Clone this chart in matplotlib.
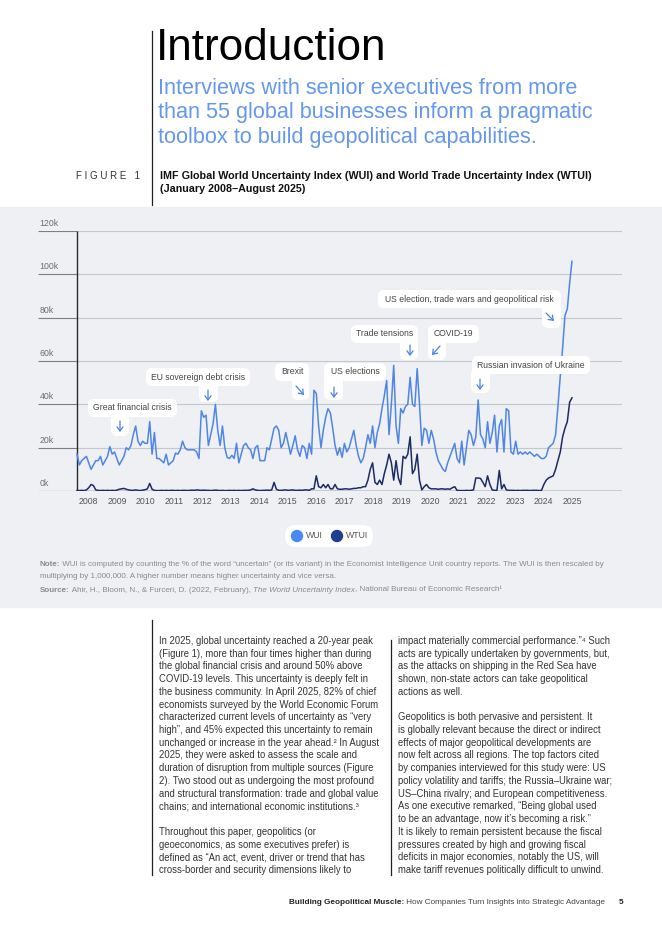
import numpy as np
import matplotlib
matplotlib.use("Agg")
import matplotlib.pyplot as plt
from matplotlib.transforms import Affine2D
from matplotlib.patches import FancyBboxPatch, FancyArrowPatch, Circle

plt.rcParams['font.family'] = ['Liberation Sans', 'DejaVu Sans']

# monthly values, Jan 2008 - Aug 2025, in thousands
wui = [
    17, 12, 14, 15, 16, 13, 10, 12, 14, 14, 16, 12,        # 2008
    14, 16, 20.5, 17, 18, 15, 12, 14, 16, 20, 19, 21,      # 2009
    26, 30, 23, 21, 23, 22, 22, 32, 17, 27, 15, 15,        # 2010
    14, 13, 17, 12, 13, 14, 17.5, 17, 19, 23, 20, 19,      # 2011
    19, 19, 19, 18, 15, 37, 34, 35, 21, 26, 31, 40,        # 2012
    28, 21, 30, 20, 15.5, 15, 16.5, 15, 22, 13, 17, 21,    # 2013
    22, 20, 19, 15, 20, 21, 14, 14, 14, 20, 19, 24,        # 2014
    29, 30, 28, 20, 22, 27, 22, 17, 21, 25.5, 19, 16,      # 2015
    21, 20, 15, 22, 17, 46.5, 45, 30, 20, 28, 34, 38,      # 2016
    36, 29, 21, 16.5, 20, 15.5, 22, 18, 20, 24, 28, 21,    # 2017
    16, 13, 15, 20, 26, 22, 30, 20, 27, 31, 38, 44,        # 2018
    51, 26, 40, 58, 30, 22, 38, 36, 39, 40, 52.5, 40,      # 2019
    39, 56.5, 40, 21, 29, 28, 22, 28, 24, 18, 14, 12,      # 2020
    10, 9, 13, 16, 19, 22, 15, 13, 23, 12, 20, 28,         # 2021
    26, 21, 25, 42, 26, 24, 20, 32, 22, 27, 35, 18,        # 2022
    30, 33, 18, 38, 37, 18, 17, 23, 17, 18, 17, 18,        # 2023
    17, 18, 17, 16, 17, 16, 15, 15, 16, 20, 21, 22,        # 2024
    26, 39, 53, 66, 81, 84, 96, 106,                       # 2025
]
wtui = [
    0.2, 0.2, 0.3, 0.2, 0.5, 1.5, 3, 2.5, 0.5, 0.3, 0.2, 0.3,
    0.2, 0.3, 0.2, 0.3, 0.2, 0.4, 0.8, 1, 1.2, 0.8, 0.5, 0.3,
    0.3, 0.5, 0.3, 0.2, 0.4, 0.6, 1, 3.5, 0.8, 0.3, 0.2, 0.2,
    0.3, 0.2, 0.3, 0.2, 0.3, 0.3, 0.2, 0.3, 0.2, 0.3, 0.3, 0.2,
    0.3, 0.4, 0.3, 0.5, 0.4, 0.3, 0.4, 0.3, 0.3, 0.2, 0.3, 0.4,
    0.3, 0.2, 0.3, 0.2, 0.2, 0.3, 0.2, 0.3, 0.2, 0.3, 0.2, 0.3,
    0.3, 0.3, 0.5, 1, 0.5, 0.3, 0.2, 0.3, 0.3, 0.4, 0.3, 0.5,
    4, 0.8, 0.3, 0.3, 0.4, 0.5, 0.3, 0.4, 0.5, 0.3, 0.3, 0.4,
    0.3, 0.5, 0.5, 0.3, 1, 1, 7, 2, 1.5, 3, 1.5, 3,
    1, 1, 3, 1, 0.8, 0.8, 1, 1, 0.8, 1, 1.2, 1.2,
    1.5, 1.5, 2, 2, 5, 10, 13, 4, 3, 5, 3, 8,
    12, 17, 13, 5, 14, 6, 3, 16, 15, 17, 25, 8,
    10, 17, 5, 0.5, 2, 3, 1.5, 1, 1, 1, 0.8, 1,
    1, 0.8, 1, 0.8, 1.5, 2, 0.3, 0.2, 0.2, 0.2, 0.3, 0.2,
    0.3, 0.5, 6, 6, 5.8, 4, 2, 7, 3, 0.5, 0.3, 0.3,
    9.5, 1, 3, 0.5, 0.3, 0.3, 0.3, 0.2, 0.3, 0.2, 0.3, 0.3,
    0.3, 0.2, 0.3, 0.3, 0.3, 0.2, 0.3, 3, 5, 6, 6.5, 7,
    10, 14, 18, 25, 29, 32, 41, 43,
]
years = [str(y) for y in range(2008, 2026)]
yticks = [0, 20, 40, 60, 80, 100, 120]

events = [
    # label, box (x0, y0, x1, y1) in page px, tab box, arrow start/end
    ("Great financial crisis", (88, 399, 177, 417), (111, 410, 129, 436), (120, 421), (120, 432)),
    ("EU sovereign debt crisis", (146, 368, 250, 386), (199, 380, 218, 402), (208, 390), (208, 401)),
    ("Brexit", (275, 363, 309, 381), (292, 375, 309, 400), (296, 386), (304, 395)),
    ("US elections", (324, 363, 386, 381), (324, 375, 343, 400), (334, 387), (334, 398)),
    ("Trade tensions", (351, 325, 418, 343), (400, 337, 418, 360), (410, 345), (410, 356)),
    ("COVID-19", (428, 325, 479, 343), (428, 337, 446, 360), (440, 346), (432, 355)),
    ("US election, trade wars and geopolitical risk", (378, 290, 561, 308), (542, 302, 561, 328), (546, 313), (554, 321)),
    ("Russian invasion of Ukraine", (472, 356, 590, 374), (471, 368, 490, 393), (480, 379), (480, 390)),
]

left_col = [
    "In 2025, global uncertainty reached a 20-year peak",
    "(Figure 1), more than four times higher than during",
    "the global financial crisis and around 50% above",
    "COVID-19 levels. This uncertainty is deeply felt in",
    "the business community. In April 2025, 82% of chief",
    "economists surveyed by the World Economic Forum",
    "characterized current levels of uncertainty as \u201cvery",
    "high\u201d, and 45% expected this uncertainty to remain",
    "unchanged or increase in the year ahead.\u00b2 In August",
    "2025, they were asked to assess the scale and",
    "duration of disruption from multiple sources (Figure",
    "2). Two stood out as undergoing the most profound",
    "and structural transformation: trade and global value",
    "chains; and international economic institutions.\u00b3",
    "",
    "Throughout this paper, geopolitics (or",
    "geoeconomics, as some executives prefer) is",
    "defined as \u201cAn act, event, driver or trend that has",
    "cross-border and security dimensions likely to",
]
right_col = [
    "impact materially commercial performance.\u201d\u2074 Such",
    "acts are typically undertaken by governments, but,",
    "as the attacks on shipping in the Red Sea have",
    "shown, non-state actors can take geopolitical",
    "actions as well.",
    "",
    "Geopolitics is both pervasive and persistent. It",
    "is globally relevant because the direct or indirect",
    "effects of major geopolitical developments are",
    "now felt across all regions. The top factors cited",
    "by companies interviewed for this study were: US",
    "policy volatility and tariffs; the Russia\u2013Ukraine war;",
    "US\u2013China rivalry; and European competitiveness.",
    "As one executive remarked, \u201cBeing global used",
    "to be an advantage, now it\u2019s becoming a risk.\u201d",
    "It is likely to remain persistent because the fiscal",
    "pressures created by high and growing fiscal",
    "deficits in major economies, notably the US, will",
    "make tariff revenues politically difficult to unwind.",
]

W, H = 662, 936
fig = plt.figure(figsize=(W / 100, H / 100), dpi=100)
fig.patch.set_facecolor('white')
# page pixel coordinates, origin top-left
P = Affine2D().scale(1 / 100, -1 / 100).translate(0, H / 100) + fig.dpi_scale_trans

blue = '#4F86E6'
navy = '#1C2B66'
panel = '#EEF0F4'

def ptext(x, y, s, **kw):
    return fig.text(x, y, s, transform=P, **kw)

def runs(x, y, parts, size, color):
    r = fig.canvas.get_renderer()
    for s, kw in parts:
        c = kw.pop('color', color)
        t = ptext(x, y, s, fontsize=size, color=c, va='center', **kw)
        bb = t.get_window_extent(renderer=r)
        x += bb.width * 100 / fig.dpi

def pline(x0, y0, x1, y1, **kw):
    fig.add_artist(plt.Line2D([x0, x1], [y0, y1], transform=P, **kw))

# grey panel
fig.add_artist(plt.Rectangle((0, 207), W, 400, transform=P, color=panel, zorder=0))

# header
pline(152, 31, 152, 205, color='#222222', lw=0.9)
ptext(156, 48, "Introduction", fontsize=31.8, color='black', va='center')
sub = ["Interviews with senior executives from more",
       "than 55 global businesses inform a pragmatic",
       "toolbox to build geopolitical capabilities."]
for i, s in enumerate(sub):
    ptext(158, 88 + i * 24.7, s, fontsize=15.6, color='#6497EE', va='center')
ptext(140, 176, "F I G U R E   1", fontsize=7, color='#333333', ha='right', va='center')
ptext(160, 176, "IMF Global World Uncertainty Index (WUI) and World Trade Uncertainty Index (WTUI)",
      fontsize=7.75, fontweight='bold', color='#111111', va='center')
ptext(160, 189, "(January 2008\u2013August 2025)", fontsize=7.75, fontweight='bold', color='#111111', va='center')

# chart
ax = fig.add_axes([38 / W, 1 - 491 / H, (622 - 38) / W, (491 - 231) / H])
ax.patch.set_alpha(0)
ax.axis('off')
ppm = (572 - 77) / 211
x0, x1 = -(77 - 38) / ppm, 211 + (622 - 572) / ppm
ax.set_xlim(x0, x1)
ax.set_ylim(0, 120)
for v in yticks:
    ax.hlines(v, 0, x1, color='#C4C7CE' if v else '#3A3A3A', lw=0.8 if v else 1.0, zorder=1)
    ax.hlines(v, x0, 0, color='#7C7F86' if v else '#3A3A3A', lw=0.8, zorder=1)
    ax.text(x0 + 0.6, v + 1.4, f"{v}k", fontsize=6.3, color='#6E6E6E', va='bottom', ha='left')
ax.vlines(0, 0, 120, color='#2A2A2A', lw=1.0, zorder=2)
months = np.arange(len(wui))
ax.plot(months, wui, color=blue, lw=1.1, zorder=3)
ax.plot(months, wtui, color=navy, lw=1.1, zorder=3)
for pos, lab in zip(np.linspace(5, 211, len(years)), years):
    ax.text(pos, -5, lab, fontsize=6.3, color='#555555', ha='center', va='center', clip_on=False)

# event call-outs
for lab, box, tab, a0, a1 in events:
    for bx in (box, tab):
        fig.add_artist(FancyBboxPatch((bx[0], bx[1]), bx[2] - bx[0], bx[3] - bx[1],
                                      boxstyle="round,pad=0,rounding_size=6", transform=P,
                                      fc='white', ec='none', zorder=4))
    ptext((box[0] + box[2]) / 2, (box[1] + box[3]) / 2, lab, fontsize=6.2, color='#444444',
          ha='center', va='center', zorder=5)
    fig.add_artist(FancyArrowPatch(a0, a1, transform=P, arrowstyle='->,head_length=3,head_width=2.2',
                                   color='#4A80E4', lw=0.9, zorder=5, shrinkA=0, shrinkB=0))

# legend
fig.add_artist(FancyBboxPatch((285, 525), 88, 22, boxstyle="round,pad=0,rounding_size=10",
                              transform=P, fc='white', ec='none'))
fig.add_artist(Circle((297, 536), 5.5, transform=P, color='#4A8AF4'))
fig.add_artist(Circle((337, 536), 5.5, transform=P, color='#1E3F8F'))
ptext(306, 536, "WUI", fontsize=6.3, color='#555555', va='center')
ptext(346, 536, "WTUI", fontsize=6.3, color='#555555', va='center')

# notes
grey = '#8A8A8A'
runs(40, 565, [("Note:", dict(fontweight='bold')),
               (" WUI is computed by counting the % of the word \u201cuncertain\u201d (or its variant) in the Economist "
                "Intelligence Unit country reports. The WUI is then rescaled by", {})], 5.8, grey)
runs(40, 577, [("multiplying by 1,000,000. A higher number means higher uncertainty and vice versa.", {})], 5.8, grey)
runs(40, 590, [("Source:", dict(fontweight='bold')),
               (" Ahir, H., Bloom, N., & Furceri, D. (2022, February), ", {}),
               ("The World Uncertainty Index", dict(fontstyle='italic')),
               (", National Bureau of Economic Research\u00b9", {})], 5.8, grey)

# body text
pline(152, 620, 152, 875, color='#222222', lw=0.9)
pline(390.5, 640, 390.5, 875, color='#222222', lw=0.9)
for i, s in enumerate(left_col):
    ptext(159, 641 + i * 12.72, s, fontsize=6.85, color='#333333', va='center')
for i, s in enumerate(right_col):
    ptext(398, 641 + i * 12.72, s, fontsize=6.85, color='#333333', va='center')

# footer
runs(289, 902, [("Building Geopolitical Muscle:", dict(fontweight='bold', color='#222222')),
                (" How Companies Turn Insights into Strategic Advantage", dict(color='#444444'))], 5.9, '#333333')
ptext(619, 902, "5", fontsize=6, fontweight='bold', color='#222222', va='center')

fig.savefig("out.png", dpi=100, facecolor='white')
